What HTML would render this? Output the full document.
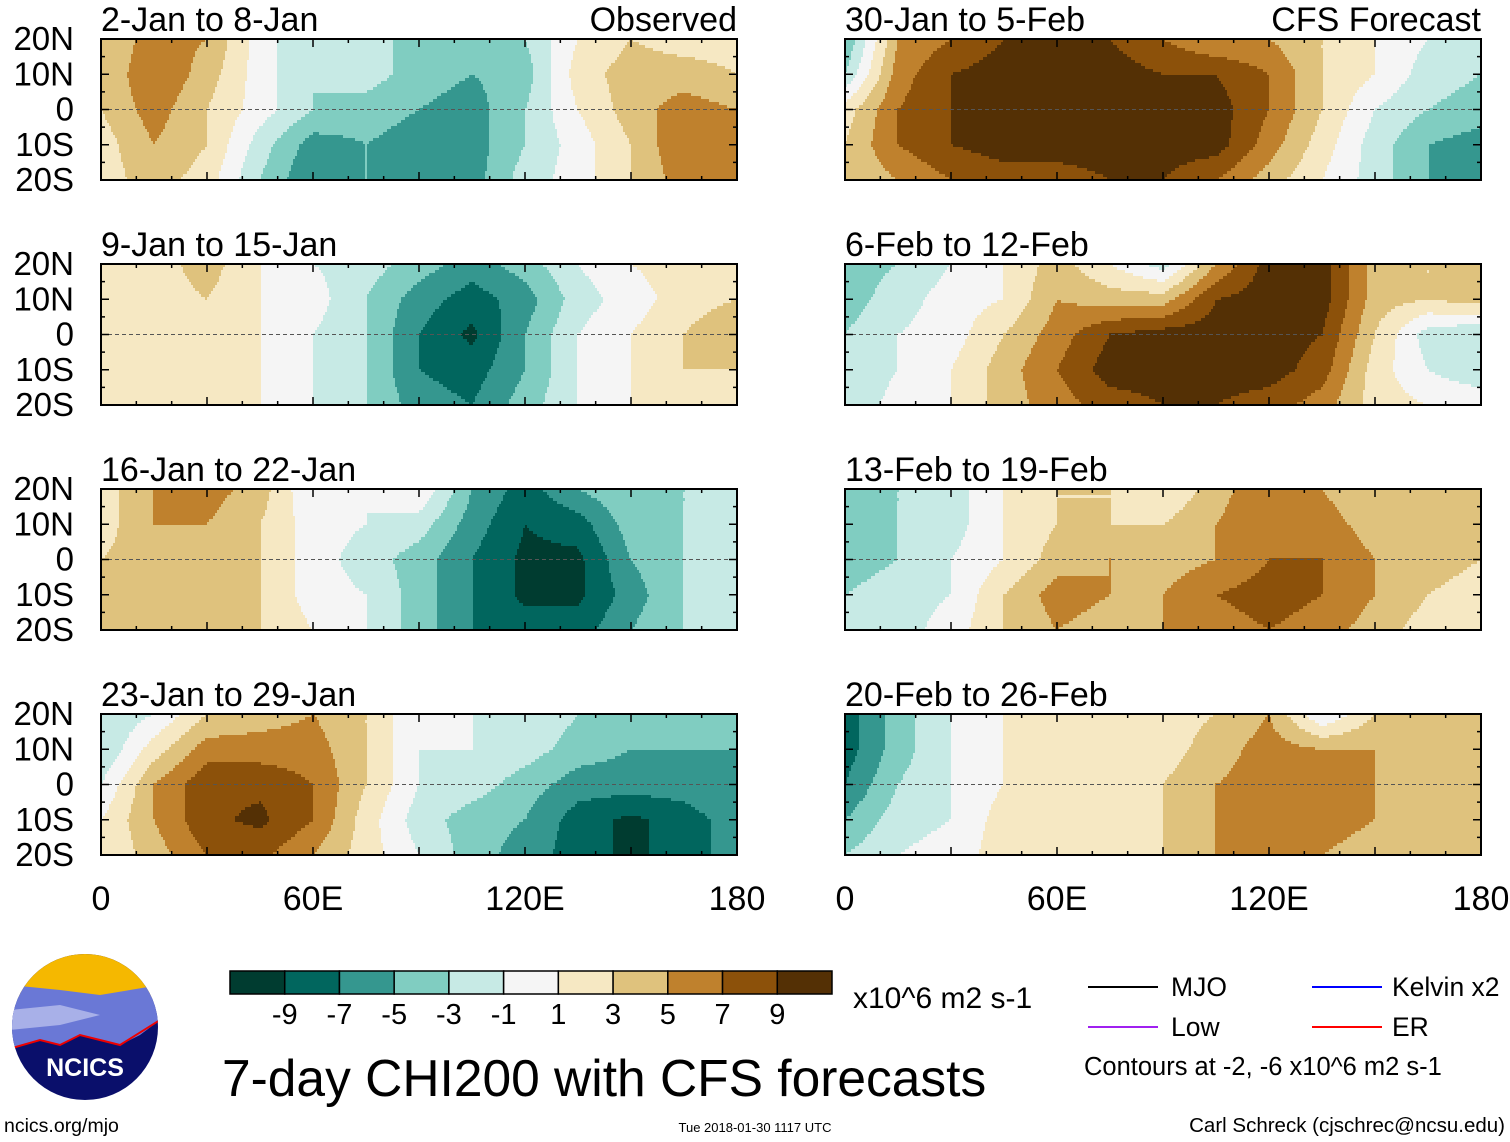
<!DOCTYPE html>
<html><head><meta charset="utf-8">
<style>
body{margin:0;background:#fff;}
svg{display:block;font-family:"Liberation Sans",sans-serif;}
</style></head>
<body>
<svg id="chart" width="1510" height="1142" viewBox="0 0 1510 1142">
<g id="panels"></g>
<g id="cbar"></g>
<text x="853" y="1008" font-size="30">x10^6 m2 s-1</text>
<text x="222" y="1096" font-size="51.5">7-day CHI200 with CFS forecasts</text>
<g font-size="26.5">
 <line x1="1088" y1="987" x2="1158" y2="987" stroke="#000" stroke-width="2"/>
 <text x="1171" y="996">MJO</text>
 <line x1="1312" y1="987" x2="1382" y2="987" stroke="#00f" stroke-width="2"/>
 <text x="1392" y="996">Kelvin x2</text>
 <line x1="1088" y1="1027" x2="1158" y2="1027" stroke="#a020f0" stroke-width="2"/>
 <text x="1171" y="1036">Low</text>
 <line x1="1312" y1="1027" x2="1382" y2="1027" stroke="#f00" stroke-width="2"/>
 <text x="1392" y="1036">ER</text>
 <text x="1084" y="1075" font-size="25.5">Contours at -2, -6 x10^6 m2 s-1</text>
</g>
<g>
 <defs><clipPath id="lc"><circle cx="85" cy="1027" r="73"/></clipPath></defs>
 <g clip-path="url(#lc)">
  <rect x="10" y="952" width="150" height="150" fill="#0a0f6b"/>
  <rect x="10" y="952" width="150" height="45" fill="#f5b800"/>
  <path d="M10 985 L60 990 L100 995 L160 985 L160 1020 L140 1035 L120 1045 L100 1040 L80 1035 L60 1045 L40 1040 L10 1048Z" fill="#6a78d6"/>
  <path d="M10 1010 L60 1005 L100 1015 L60 1025 L10 1030Z" fill="#a8b0e8"/>
  <path d="M12 1048 L40 1040 L60 1045 L80 1035 L100 1040 L120 1045 L160 1020" fill="none" stroke="#e00" stroke-width="2"/>
 </g>
 <text x="85" y="1076" font-size="25" font-weight="bold" fill="#fff" text-anchor="middle">NCICS</text>
</g>
<text x="4" y="1132" font-size="19.5">ncics.org/mjo</text>
<text x="755" y="1132" font-size="13" text-anchor="middle">Tue 2018-01-30 1117 UTC</text>
<text x="1505" y="1132" font-size="20.5" text-anchor="end">Carl Schreck (cjschrec@ncsu.edu)</text>
</svg>
<script>
const lons=[0,15,30,45,60,75,90,105,120,135,150,165,180];
const lats=[20,10,0,-10,-20];
const levels=[-9,-7,-5,-3,-1,1,3,5,7,9];
const levelLabels=["-9","-7","-5","-3","-1","1","3","5","7","9"];
const palette=["#003c30","#01665e","#35978f","#80cdc1","#c7eae5","#f5f5f5","#f6e8c3","#dfc27d","#bf812d","#8c510a","#543005"];
const panelTitles=["2-Jan to 8-Jan","9-Jan to 15-Jan","16-Jan to 22-Jan","23-Jan to 29-Jan","30-Jan to 5-Feb","6-Feb to 12-Feb","13-Feb to 19-Feb","20-Feb to 26-Feb"];
const latLabels=["20N","10N","0","10S","20S"];
const lonLabels=["0","60E","120E","180"];
const field1=[[3,6,5,0,-3,-3,-3,-4,-3,1,3,2,2],[3,7,4,0,-3,-2,-4,-5,-4,2,4,4,3],[3,6,3,0,-3,-4,-5,-6,-3,1,4,6,5],[2,5,3,-2,-6,-5,-6,-6,-3,0,3,7,7],[2,4,2,-3,-7,-5,-6,-6,-2,0,3,6,7]];
const field2=[[1,2,4,1,-1,-2,-4,-6,-4,-1,1,2,2],[1,2,3,1,0,-3,-6,-8,-6,-2,0,2,3],[1,2,2,1,-1,-3,-7,-9.5,-5,-1,1,3,5],[1,1,1,1,-1,-3,-7,-8,-5,-1,1,3,3],[1,1,1,1,-1,-3,-6,-7,-4,-1,1,2,2]];
const field3=[[2,5,6,4,-1,-1,1,-5,-8,-5,-3,-3,-3],[2,5,5,3,0,-1,-2,-6,-9,-8,-4,-3,-2],[3,4,4,3,0,-2,-4,-7,-9.5,-9.5,-5,-3,-1],[4,4,3,3,0,-1,-4,-7,-9.5,-9.5,-6,-3,-2],[4,4,3,3,1,-1,-4,-7,-8,-8,-5,-3,-2]];
const field4=[[-3,-1,3,4,5,3,-1,-1,-1,-3,-4,-5,-4],[-3,2,6,6,6,3,-1,-1,-2,-4,-5,-5,-5],[-1,5,8.5,8.5,7,3,-1,-2,-4,-6,-6,-6,-5],[1,5,8.5,9.5,7,2,-2,-4,-5,-8,-9.5,-8,-6],[1,4,7,7.5,5,2,-1,-4,-6,-8,-9.5,-8,-6]];
const field5=[[-5,5,7,9,10,9,7,5,5,3,1,-1,-3],[-3,6,9,10,10,10,9,9,7,3,1,-2,-3],[2,7,9,10,10,10,10,10,7,3,-1,-3,-4],[3,7,9,10,10,10,10,10,6,2,-2,-5,-6],[3,5,7,8,8,9,9,7,4,1,-2,-5,-6]];
const field6=[[-4,-3,-1,1,4,1,-2,5,10,10,4,3,3],[-4,-2,0,1,5,4,4,9,10,10,4,3,4],[-3,-1,0,3,6,9,10,10,10,9,3,-2,-3],[-3,-1,1,4,7,10,10,10,10,8,2,-1,-3],[-3,0,1,4,6,8,9,9,8,6,2,1,1]];
const field7=[[-5,-3,-2,1,3,3,1,4,7,5,3,4,4],[-5,-3,-2,1,3,3,3,5,7,6,4,4,4],[-4,-3,-1,1,4,5,4,5,7,7,5,4,3],[-3,-2,-1,3,6,5,5,7,8,7,5,3,2],[-2,-2,0,3,5,4,5,6,7,6,4,2,1]];
const field8=[[-8,-4,-1,1,3,2,2,3,5,-1,3,4,4],[-8,-4,-1,1,2,2,2,4,6,5,5,5,4],[-7,-3,-1,1,2,2,3,5,6,5,5,4,3],[-5,-2,-1,2,2,2,3,5,6,6,5,4,3],[-3,-1,0,2,2,2,3,5,6,5,4,3,3]];
const fields=[field1,field2,field3,field4,field5,field6,field7,field8];

const NS="http://www.w3.org/2000/svg";
function mk(tag,attrs,parent){const e=document.createElementNS(NS,tag);for(const k in attrs)e.setAttribute(k,attrs[k]);parent.appendChild(e);return e;}
const PW=636,PH=141;
const lefts=[101,845],tops=[39,264,489,714];
function colorFor(v){let i=0;while(i<levels.length&&v>=levels[i])i++;return palette[i];}
function sample(f,lon,lat){
  const fx=(lon-lons[0])/(lons[lons.length-1]-lons[0])*(lons.length-1);
  const fy=(lats[0]-lat)/(lats[0]-lats[lats.length-1])*(lats.length-1);
  const i=Math.min(Math.floor(fx),lons.length-2),j=Math.min(Math.floor(fy),lats.length-2);
  const tx=fx-i,ty=fy-j;
  const a=f[j][i]*(1-tx)+f[j][i+1]*tx,b=f[j+1][i]*(1-tx)+f[j+1][i+1]*tx;
  return a*(1-ty)+b*ty;
}
const root=document.getElementById('panels');
fields.forEach((f,p)=>{
  const col=p<4?0:1,row=p%4;
  const X0=lefts[col],Y0=tops[row];
  const xs=lon=>X0+(lon-lons[0])/(lons[lons.length-1]-lons[0])*PW;
  const ys=lat=>Y0+(lats[0]-lat)/(lats[0]-lats[lats.length-1])*PH;
  const g=mk('g',{},root);
  
  
  const cells=mk('g',{'shape-rendering':'crispEdges'},g);
  
  
  const dy=3,dx=2;
  for(let py=0;py<PH;py+=dy){
    const lat=lats[0]-(py+dy/2)/PH*(lats[0]-lats[lats.length-1]);
    let start=0,cur=null;
    for(let px=0;px<=PW;px+=dx){
      let c=null;
      if(px<PW){const lon=lons[0]+(px+dx/2)/PW*(lons[lons.length-1]-lons[0]);c=colorFor(sample(f,lon,lat));}
      if(c!==cur){
        if(cur!==null){const r=mk('rect',{x:X0+start,y:Y0+py,width:px-start,height:Math.min(dy,PH-py),fill:cur},cells);
          }
        cur=c;start=px;
      }
    }
  }
  const eq=mk('line',{x1:X0,x2:X0+PW,y1:ys(0),y2:ys(0),stroke:'#555','stroke-dasharray':'4,3','stroke-width':1},g);
  
  const fr=mk('rect',{x:X0,y:Y0,width:PW,height:PH,fill:'none',stroke:'#000','stroke-width':2},g);
  
  for(let lon=0;lon<=180;lon+=10){
    const L=lon%30===0?8:4;
    mk('line',{x1:xs(lon),x2:xs(lon),y1:Y0,y2:Y0+L,stroke:'#000','stroke-width':1.5},g);
    mk('line',{x1:xs(lon),x2:xs(lon),y1:Y0+PH,y2:Y0+PH-L,stroke:'#000','stroke-width':1.5},g);
  }
  for(let lat=-20;lat<=20;lat+=5){
    const L=lat%10===0?8:4;
    mk('line',{x1:X0,x2:X0+L,y1:ys(lat),y2:ys(lat),stroke:'#000','stroke-width':1.5},g);
    mk('line',{x1:X0+PW,x2:X0+PW-L,y1:ys(lat),y2:ys(lat),stroke:'#000','stroke-width':1.5},g);
  }
  const t=mk('text',{x:X0,y:Y0-8,'font-size':34},g);t.textContent=panelTitles[p];
  
  if(row===0){const s=mk('text',{x:X0+PW,y:Y0-8,'font-size':34,'text-anchor':'end'},g);
    s.textContent=col===0?'Observed':'CFS Forecast';
    }
  if(col===0){latLabels.forEach((lb,i)=>{const tt=mk('text',{x:74,y:ys(lats[i])+11,'font-size':33,'text-anchor':'end'},g);tt.textContent=lb;
    });}
  if(row===3){lonLabels.forEach((lb,i)=>{const tt=mk('text',{x:xs(i*60),y:910,'font-size':34,'text-anchor':'middle'},g);tt.textContent=lb;
    });}
});
const cb=document.getElementById('cbar');
const cbX=230,cbW=602,cbY=971,cbH=23,bw=cbW/palette.length;
palette.forEach((c,i)=>{const r=mk('rect',{x:cbX+i*bw,y:cbY,width:bw,height:cbH,fill:c,stroke:'#000','stroke-width':1.5},cb);
  });
levelLabels.forEach((lb,i)=>{const t=mk('text',{x:cbX+(i+1)*bw,y:1024,'font-size':29,'text-anchor':'middle'},cb);t.textContent=lb;
  });
</script>
</body></html>
